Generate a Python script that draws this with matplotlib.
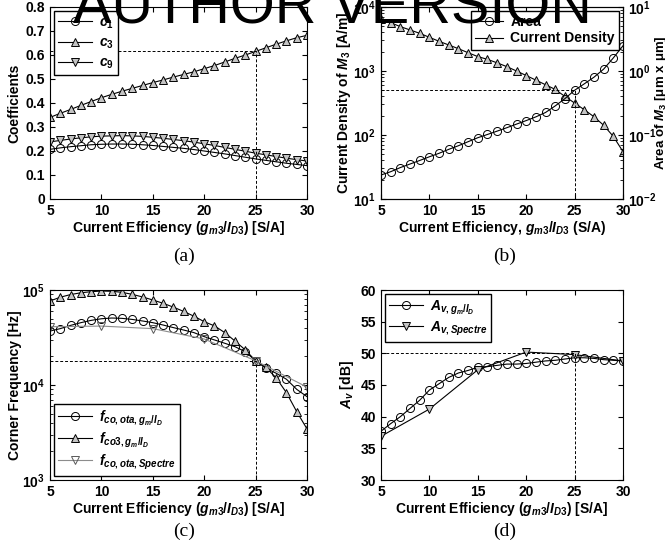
import numpy as np
import matplotlib
matplotlib.use("Agg")
import matplotlib.pyplot as plt
from matplotlib.ticker import FuncFormatter, LogLocator, NullFormatter

plt.rcParams['font.family'] = ['Liberation Sans', 'DejaVu Sans']
plt.rcParams['font.weight'] = 'bold'
plt.rcParams['font.size'] = 10
plt.rcParams['axes.labelweight'] = 'bold'
plt.rcParams['mathtext.fontset'] = 'custom'
plt.rcParams['mathtext.it'] = 'Liberation Sans:italic:bold'
plt.rcParams['mathtext.rm'] = 'Liberation Sans:bold'
plt.rcParams['mathtext.bf'] = 'Liberation Sans:bold'
plt.rcParams['xtick.direction'] = 'in'
plt.rcParams['ytick.direction'] = 'in'
plt.rcParams['xtick.top'] = True
plt.rcParams['ytick.right'] = True
plt.rcParams['axes.linewidth'] = 0.8

# ---- data ----
gm_id = np.arange(5, 31)
gm_id_sp = np.array([5, 10, 15, 20, 25, 30])

c1 = [0.207, 0.213, 0.218, 0.222, 0.226, 0.228, 0.229, 0.229, 0.228, 0.226, 0.223, 0.219, 0.215,
      0.211, 0.206, 0.200, 0.194, 0.188, 0.181, 0.174, 0.167, 0.161, 0.155, 0.149, 0.144, 0.139]
c3 = [0.340, 0.357, 0.373, 0.390, 0.406, 0.422, 0.436, 0.449, 0.461, 0.473, 0.485, 0.496, 0.508,
      0.519, 0.530, 0.543, 0.556, 0.571, 0.586, 0.600, 0.615, 0.630, 0.645, 0.659, 0.672, 0.682]
c9 = [0.238, 0.244, 0.250, 0.255, 0.259, 0.262, 0.263, 0.264, 0.263, 0.261, 0.257, 0.253, 0.248,
      0.243, 0.237, 0.230, 0.223, 0.215, 0.207, 0.199, 0.191, 0.184, 0.177, 0.170, 0.164, 0.158]

area = [0.0237, 0.0267, 0.031, 0.0352, 0.040, 0.0457, 0.0518, 0.0597, 0.068, 0.0786, 0.0907, 0.102,
        0.115, 0.130, 0.148, 0.168, 0.192, 0.225, 0.285, 0.37, 0.50, 0.63, 0.80, 1.07, 1.6, 2.48]
cur_density = [6420, 5690, 4930, 4380, 3880, 3360, 2910, 2550, 2230, 1930, 1680, 1520, 1340, 1170,
               1000, 850, 720, 610, 515, 400, 316, 248, 193, 142, 95, 55]

f_co_ota = [37000, 39200, 42400, 45300, 47900, 49800, 50700, 50300, 49000, 47200, 45300, 42800, 40200,
            37900, 35600, 32300, 29800, 27500, 25300, 22400, 18000, 15000, 13300, 11500, 9000, 7540]
f_co3 = [76600, 84000, 89500, 93500, 96000, 97500, 97000, 94500, 90000, 84500, 78500, 72500, 66000,
         59500, 53000, 46400, 41900, 35600, 29000, 23400, 18000, 15300, 11900, 8300, 5240, 3450]
f_co_spectre = [41100, 41700, 39200, 30500, 18000, 9500]

av_gmid = [37.7, 38.9, 40.0, 41.3, 42.6, 44.2, 45.2, 46.2, 46.9, 47.3, 47.8, 47.9, 48.1,
           48.3, 48.3, 48.4, 48.6, 48.8, 48.9, 49.1, 49.3, 49.3, 49.2, 49.0, 48.9, 48.8]
av_spectre = [36.9, 41.2, 47.4, 50.2, 49.8, 48.8]

W, H = 665, 552
fig = plt.figure(figsize=(W / 100, H / 100), dpi=100)


def px_axes(l, t, r, b):
    return fig.add_axes([l / W, 1 - b / H, (r - l) / W, (b - t) / H])


gray = '#c4c4c4'
dash = (0, (3, 2))
circ = dict(marker='o', mfc='none', mec='k', ms=5.8, color='k', lw=0.8, mew=0.7)
tri_up = dict(marker='^', mfc=gray, mec='k', ms=6, color='k', lw=0.8, mew=0.7)
tri_dn = dict(marker='v', mfc=gray, mec='k', ms=6, color='k', lw=0.8, mew=0.7)
leg_kw = dict(fancybox=False, edgecolor='k', framealpha=1, borderaxespad=0.3, borderpad=0.3,
              handletextpad=0.5)


def log_fmt(v, pos):
    return r'$\mathrm{10^{%d}}$' % int(round(np.log10(v)))


def setup_log(axis):
    axis.set_major_locator(LogLocator(base=10))
    axis.set_minor_locator(LogLocator(base=10, subs=np.arange(2, 10)))
    axis.set_major_formatter(FuncFormatter(log_fmt))
    axis.set_minor_formatter(NullFormatter())


xlab = r'Current Efficiency ($g_{m3}/I_{D3}$) [S/A]'
xticks = [5, 10, 15, 20, 25, 30]

# ---- (a) ----
ax = px_axes(50, 7, 307, 199)
ax.plot(gm_id, c1, label=r'$c_1$', **circ)
ax.plot(gm_id, c3, label=r'$c_3$', **tri_up)
ax.plot(gm_id, c9, label=r'$c_9$', **tri_dn)
ax.plot([5, 25, 25], [0.615, 0.615, 0], color='k', lw=0.7, ls=dash)
ax.set_xlim(5, 30)
ax.set_ylim(0, 0.8)
ax.set_xticks(xticks)
ax.set_yticks(np.arange(0, 0.81, 0.1))
ax.set_yticklabels(['0'] + ['%.1f' % v for v in np.arange(0.1, 0.81, 0.1)])
ax.set_xlabel(xlab, labelpad=1)
ax.set_ylabel('Coefficients', labelpad=3)
ax.legend(loc='upper left', handlelength=2.4, labelspacing=0.35, **leg_kw)

# ---- (b) ----
ax = px_axes(381, 7, 623, 199)
ax2 = ax.twinx()
l1, = ax2.plot(gm_id, area, label='Area', **circ)
l2, = ax.plot(gm_id, cur_density, label='Current Density', **tri_up)
ax.plot([5, 25, 25], [500, 500, 10], color='k', lw=0.7, ls=dash)
ax.set_yscale('log')
ax2.set_yscale('log')
ax.set_xlim(5, 30)
ax.set_ylim(10, 1e4)
ax2.set_ylim(1e-2, 10)
setup_log(ax.yaxis)
setup_log(ax2.yaxis)
ax.tick_params(axis='y', which='both', right=False)
ax2.tick_params(axis='y', which='both', direction='in')
ax.set_xticks(xticks)
ax.set_xlabel(r'Current Efficiency, $g_{m3}/I_{D3}$ (S/A)', labelpad=1)
ax.set_ylabel(r'Current Density of $M_3$ [A/m]', labelpad=0)
ax2.set_ylabel(r'Area of $M_3$ [$\mathrm{\mu m\ x\ \mu m}$]', fontsize=9.5)
ax2.yaxis.set_label_coords((653 - 381) / 242, 0.5)
ax2.legend([l1, l2], ['Area', 'Current Density'], loc='upper right', handlelength=2.0,
           labelspacing=0.15, **leg_kw)

# ---- (c) ----
ax = px_axes(50, 290, 307, 480)
ax.plot(gm_id, f_co_ota, label=r'$f_{co,ota,g_m/I_D}$', **circ)
ax.plot(gm_id, f_co3, label=r'$f_{co3,g_m/I_D}$', **tri_up)
ax.plot(gm_id_sp, f_co_spectre, label=r'$f_{co,ota,Spectre}$', marker='v', mfc='none', mec='0.35',
        ms=6, color='0.55', lw=0.8, mew=0.7)
ax.plot([5, 25, 25], [18000, 18000, 1e3], color='k', lw=0.7, ls=dash)
ax.set_yscale('log')
ax.set_xlim(5, 30)
ax.set_ylim(1e3, 1e5)
setup_log(ax.yaxis)
ax.set_xticks(xticks)
ax.set_xlabel(xlab, labelpad=1)
ax.set_ylabel('Corner Frequency [Hz]', labelpad=0)
ax.legend(loc='lower left', handlelength=2.4, labelspacing=0.2, **leg_kw)

# ---- (d) ----
ax = px_axes(381, 290, 623, 480)
ax.plot(gm_id, av_gmid, label=r'$A_{v,g_m/I_D}$', **circ)
ax.plot(gm_id_sp, av_spectre, label=r'$A_{v,Spectre}$', **tri_dn)
ax.plot([5, 25, 25], [50, 50, 30], color='k', lw=0.7, ls=dash)
ax.set_xlim(5, 30)
ax.set_ylim(30, 60)
ax.set_xticks(xticks)
ax.set_yticks(np.arange(30, 61, 5))
ax.set_xlabel(xlab, labelpad=1)
ax.set_ylabel(r'$A_v$ [dB]', labelpad=3)
ax.legend(loc='upper left', handlelength=2.4, labelspacing=0.2, **leg_kw)

# ---- sub captions ----
for txt, x, y in [('(a)', 184, 256), ('(b)', 505, 256), ('(c)', 184, 531), ('(d)', 505, 531)]:
    fig.text(x / W, 1 - y / H, txt, ha='center', va='center', fontsize=14,
             family='Liberation Serif', weight='normal')

# watermark
fig.text(0.5, 1 - 23 / H, 'AUTHOR VERSION', ha='center', va='baseline', fontsize=41.5,
         family='Liberation Sans', weight='normal', color='k', zorder=10)

fig.savefig('out.png', dpi=100)
